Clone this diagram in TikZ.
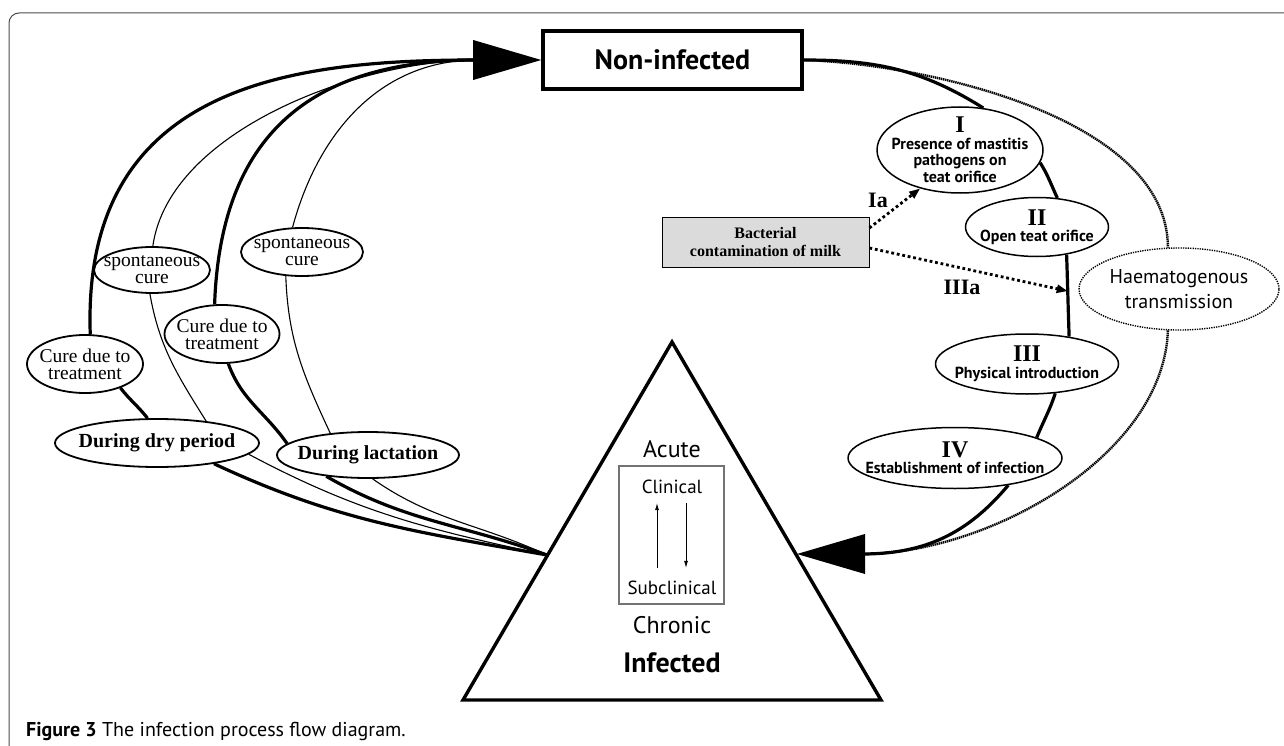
\documentclass[tikz,border=0pt]{standalone}
\usepackage{fontspec}
\setmainfont{Liberation Serif}
\setsansfont{PT Sans}
\usepackage{tikz}
\usetikzlibrary{math,shapes.geometric,arrows.meta}

\tikzset{
  oval/.style={ellipse, draw, fill=white, align=center, inner xsep=-40pt, inner ysep=-20pt},
  cureoval/.style={oval, line width=1.8pt, font=\fontsize{19.5}{17}\selectfont},
  periodoval/.style={oval, line width=1.8pt, font=\bfseries\fontsize{20}{20}\selectfont},
  stepoval/.style={oval, line width=1.5pt, font=\sffamily\bfseries\fontsize{16}{16.5}\selectfont},
  thickline/.style={line width=3.2pt},
  thinline/.style={line width=1.1pt},
  hatch/.style={line width=2.4pt, dash pattern=on 1.4pt off 0.7pt},
  dotarrow/.style={line width=2.8pt, dash pattern=on 2.8pt off 2.8pt, -{Triangle[length=11pt,width=8pt]}},
  tritext/.style={inner sep=0pt, font=\sffamily\fontsize{#1}{#1}\selectfont},
  numlabel/.style={font=\bfseries\fontsize{22}{22}\selectfont, inner sep=0pt}
}
\newcommand{\rnum}[1]{{\rmfamily\bfseries\fontsize{24}{16}\selectfont #1}}

\begin{document}
\begin{tikzpicture}[x=1pt,y=1pt]

\tikzmath{
\al = 68;
\aw = 20;
}

\useasboundingbox (0,0) rectangle (1284,-746);

\draw[black!70, line width=1pt, rounded corners=10pt] (9,-746) -- (9,-13) -- (1284,-13);

\node[draw, line width=3.6pt, minimum width=259pt, minimum height=58pt, inner sep=0pt, font=\sffamily\bfseries\fontsize{28}{28}\selectfont] (nonInf) at (672.5,-60) {Non-infected};

\coordinate (apex) at (672,-342);
\coordinate (bl) at (463,-700);
\coordinate (br) at (881,-700);
\coordinate (conv) at (547,-555);
\coordinate (tipR) at (797,-554);
\coordinate (baseL) at (477,-60);
\coordinate (baseR) at (862,-554);

\draw[line width=3.4pt, line join=miter] (apex) -- (bl) -- (br) -- cycle;

\node[tritext=24] (acute) at (672,-449) {Acute};
\node[draw, black!55, line width=1.1pt, minimum width=105pt, minimum height=138pt] (stateBox) at (671.5,-535) {};
\node[tritext=19] (clin) at (672,-487) {Clinical};
\node[tritext=19] (subclin) at (672,-588) {Subclinical};
\node[tritext=24] (chronic) at (672,-625) {Chronic};
\node[inner sep=0pt, font=\sffamily\bfseries\fontsize{28}{28}\selectfont] (infected) at (672,-663) {Infected};
\draw[-{Latex[length=7pt,width=4pt]}, line width=0.8pt] ([xshift=-15pt,yshift=13pt]subclin.north) -- ([xshift=-15pt,yshift=-9pt]clin.south);
\draw[-{Latex[length=7pt,width=4pt]}, line width=0.8pt] ([xshift=14pt,yshift=-9pt]clin.south) -- ([xshift=14pt,yshift=13pt]subclin.north);

\node[cureoval, minimum width=116pt, minimum height=58pt] (cureL) at (85,-364) {Cure due to\\treatment};
\node[cureoval, minimum width=116pt, minimum height=46pt] (spontL) at (152,-270) {spontaneous\\cure};
\node[cureoval, minimum width=115pt, minimum height=58pt] (cureM) at (222,-334) {Cure due to\\treatment};
\node[cureoval, minimum width=122pt, minimum height=48pt] (spontR) at (302,-252) {spontaneous\\cure};
\node[periodoval, minimum width=204pt, minimum height=48pt] (dry) at (157,-443) {During dry period};
\node[periodoval, minimum width=182pt, minimum height=46pt] (lact) at (368,-455) {During lactation};

\draw[thickline] (conv) to[out=170,in=-25] (dry.-20);
\draw[thickline] (dry.111) to[out=128,in=-52] (cureL.-34);
\draw[thickline] (cureL.80) to[out=92,in=180,out looseness=1.35] (baseL);

\draw[thinline] (conv) to[out=168,in=-28] (dry.-7);
\draw[thinline] (dry.24) to[out=122,in=-80] (spontL.-95);
\draw[thinline] (spontL.88) to[out=82,in=180,looseness=0.8] (baseL);

\draw[thickline] (conv) to[out=160,in=-30] (lact.-153);
\draw[thickline] (lact.172) to[out=125,in=-70] (cureM.-78);
\draw[thickline] (cureM.104) to[out=88,in=180,looseness=1.2] (baseL);

\draw[thinline] (conv) to[out=155,in=-35] (lact.-79);
\draw[thinline] (lact.150) to[out=115,in=-88] (spontR.-124);
\draw[thinline] (spontR.111) to[out=75,in=180] (baseL);

\fill (nonInf.west) -- ++(-\al,\aw) -- ++(0,-2*\aw) -- cycle;

\node[stepoval, minimum width=166pt, minimum height=86pt] (stepI) at (960,-150) {\rnum{I}\\Presence of mastitis\\pathogens on\\teat orifice};
\node[stepoval, minimum width=143pt, minimum height=59pt] (stepII) at (1037,-227) {\rnum{II}\\Open teat orifice};
\node[stepoval, minimum width=183pt, minimum height=60pt] (stepIII) at (1027,-364) {\rnum{III}\\Physical introduction};
\node[stepoval, minimum width=214pt, minimum height=61pt] (stepIV) at (955,-458) {\rnum{IV}\\Establishment of infection};
\node[oval, line width=1.4pt, dash pattern=on 1.3pt off 1.1pt, font=\sffamily\fontsize{20}{25}\selectfont, minimum width=200pt, minimum height=82pt] (haem) at (1179,-289) {Haematogenous\\transmission};

\node[draw, fill=black!14, line width=0.8pt, minimum width=207pt, minimum height=50pt, inner sep=0pt, align=center, font=\bfseries\fontsize{16}{18}\selectfont] (bact) at (765.5,-242) {Bacterial\\contamination of milk};

\draw[thickline] (nonInf.east) to[out=0,in=148] (stepI.61);
\draw[thickline] (stepI.-9) to[out=-58,in=115] (stepII.55);
\draw[thickline] (stepII.-43) to[out=-88,in=92] coordinate[pos=.44] (entry) (stepIII.33);
\draw[thickline] (stepIII.-46) to[out=-108,in=68] (stepIV.14);
\draw[thickline] (stepIV.-27) to[out=-130,in=0] (baseR);

\draw[hatch] (nonInf.east) to[out=-2,in=90,looseness=0.8] (haem.105);
\draw[hatch] (haem.-105) to[out=-92,in=0,looseness=0.85] (baseR);

\fill (tipR) -- ++(\al,\aw) -- ++(0,-2*\aw) -- cycle;

\draw[dotarrow] ([yshift=14pt]bact.east) -- (stepI.-136);
\draw[dotarrow] ([yshift=-6pt]bact.east) -- (entry);
\node[numlabel] (labIa) at (878,-200) {Ia};
\node[numlabel] (labIIIa) at (962,-287) {IIIa};

\node[anchor=base west, inner sep=0pt, font=\sffamily\fontsize{20}{20}\selectfont] (caption) at (26,-736) {\textbf{Figure 3} The infection process flow diagram.};

\end{tikzpicture}
\end{document}
